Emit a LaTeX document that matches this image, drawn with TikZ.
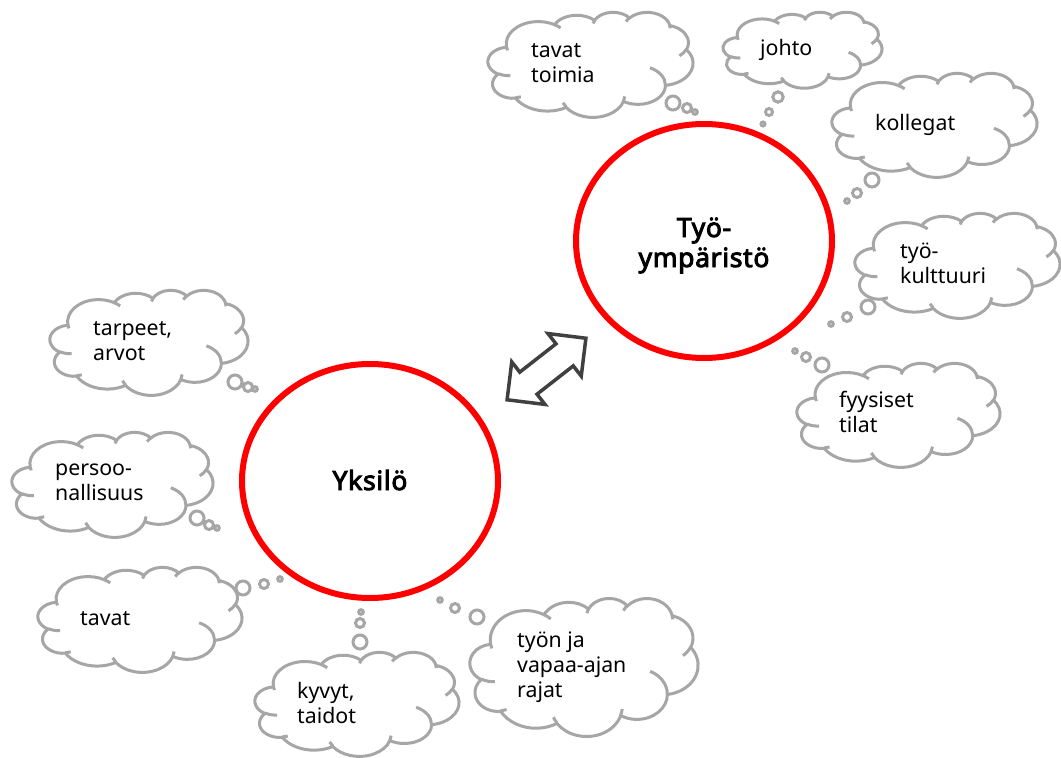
\documentclass[tikz,border=0pt]{standalone}
\usepackage{fontspec}
\setmainfont{Noto Sans}
\newfontfamily\labelfont{Noto Sans}[FakeBold=3.5, LetterSpace=2.5]
\usetikzlibrary{shapes.geometric}
\definecolor{cloudgray}{HTML}{A6A6A6}
\definecolor{arrowgray}{HTML}{404040}
\definecolor{ringred}{HTML}{FF0000}
\tikzset{
  ooarc/.style n args={4}{insert path={arc[x radius=#1, y radius=#2,
      start angle={atan2(#1*sin(#3),#2*cos(#3))},
      delta angle={mod(atan2(#1*sin(#3+#4),#2*cos(#3+#4))-atan2(#1*sin(#3),#2*cos(#3))+720,360)}]}},
}
% PowerPoint-style cloud in a box: x0, y0 (top left), width, height
\newcommand\pptcloud[4]{%
  \begin{scope}[shift={(#1,#2)}, y=1pt, xscale=#3/432, yscale=-#4/432]
    \draw[cloudline] (39,143.70)
      [ooarc={67.53}{91.90}{-190.48748}{123.78053}]
      [ooarc={53.33}{72.67}{-144.10238}{89.94523}]
      [ooarc={43.65}{59.45}{-145.80792}{99.72302}]
      [ooarc={48.57}{65.95}{-130.98607}{117.24173}]
      [ooarc={53.33}{72.73}{-78.70888}{109.02692}]
      [ooarc={67.75}{92.20}{-46.26725}{130.269}]
      [ooarc={57.85}{78.67}{0.62502}{114.03333}]
      [ooarc={67.52}{92.15}{22.4516}{115.17255}]
      [ooarc={77.20}{105.43}{66.24263}{75.71102}]
      [ooarc={43.60}{59.18}{-274.94208}{146.73557}]
      [ooarc={43.45}{59.45}{-246.8285}{152.51885}]
      -- cycle;
    \draw[cloudline]
      (46.93,261.77) [ooarc={43.45}{59.45}{86.742}{26.4295}]
      (69.28,348.99) [ooarc={43.60}{59.18}{73.61047}{11.44747}]
      (164.78,390.90) [ooarc={67.52}{92.15}{137.62415}{14.0811}]
      (288.27,347.51) [ooarc={67.52}{92.15}{6.45327}{15.99835}]
      (341.29,229.54) [ooarc={57.85}{78.67}{-70.29235}{70.91737}]
      (417.98,153.54) [ooarc={53.33}{72.73}{30.31803}{27.7515}]
      (383.24,54.26) [ooarc={48.57}{65.95}{-13.74433}{14.85342}]
      (290.78,39.52) [ooarc={48.57}{65.95}{-149.18145}{18.18912}]
      (221.41,47.20) [ooarc={43.65}{59.45}{-163.49427}{17.697}]
      (140.00,51.92) [ooarc={67.53}{91.90}{-66.70695}{12.31935}]
      (41.27,157.89) [ooarc={67.53}{91.90}{157.65435}{11.85817}];
  \end{scope}}
% three thought bubbles: big, middle, small centres
\newcommand\bubbles[3]{%
  \draw[cloudline] #1 circle[radius=7] #2 circle[radius=4.5] #3 circle[radius=2.3];}
\begin{document}
\begin{tikzpicture}[x=1pt,y=-1pt,
  cloudline/.style={draw=cloudgray, line width=3pt},
  txt/.style={font=\fontsize{21.3}{25}\selectfont, inner sep=0pt, anchor=base west},
  boldtxt/.style={font=\labelfont\fontsize{26.5}{30}\selectfont, inner sep=0pt, anchor=base},
  ring/.style={ellipse, draw=ringred, line width=6pt, minimum width=256pt, minimum height=234pt, inner sep=0pt},
]
\fill[white] (0,0) rectangle (1061,758);
\useasboundingbox (0,0) rectangle (1061,758);

% main circles
\node[ring] (tyo) at (704,241) {};
\node[ring] (yks) at (370,481) {};
\node[boldtxt] (tyotxt) at (704,237) {\begin{tabular}[t]{@{}c@{}}Työ-\\ympäristö\end{tabular}};
\node[boldtxt] (ykstxt) at (370,490) {Yksilö};

% double arrow
\begin{scope}[shift={(546.5,369)}, rotate=38]
  \draw[draw=arrowgray, fill=white, line width=3.5pt, line join=miter]
    (-50,0) -- (-23,27) -- (-23,14) -- (23,14) -- (23,27) -- (50,0)
    -- (23,-27) -- (23,-14) -- (-23,-14) -- (-23,-27) -- cycle;
\end{scope}

% clouds around Työympäristö
\pptcloud{488}{12}{205}{105}
\bubbles{(673,103)}{(687,108)}{(695,112)}
\node[txt] (c1) at (531,57) {\begin{tabular}[t]{@{}l@{}}tavat\\toimia\end{tabular}};

\pptcloud{723}{12}{159}{76}
\draw[cloudline] (778,97) circle[radius=5.2] (769,112) circle[radius=3.5] (763,124) circle[radius=2];
\node[txt] (c2) at (760,55) {johto};

\pptcloud{832}{73}{205}{104}
\bubbles{(872,180)}{(857,193)}{(847,201)}
\node[txt] (c3) at (875,130) {kollegat};

\pptcloud{855}{213}{205}{105}
\bubbles{(868,307)}{(847,317)}{(831,324)}
\node[txt] (c4) at (900,258) {\begin{tabular}[t]{@{}l@{}}työ-\\kulttuuri\end{tabular}};

\pptcloud{797}{363}{203}{104}
\bubbles{(822,365)}{(806,357)}{(795,351)}
\node[txt] (c5) at (839,407) {\begin{tabular}[t]{@{}l@{}}fyysiset\\tilat\end{tabular}};

% clouds around Yksilö
\pptcloud{50}{290}{198}{105}
\bubbles{(235,382)}{(248,387)}{(255,389)}
\node[txt] (c6) at (93,335) {\begin{tabular}[t]{@{}l@{}}tarpeet,\\arvot\end{tabular}};

\pptcloud{12}{432}{201}{105}
\bubbles{(197,518)}{(209,525)}{(217,528)}
\node[txt] (c7) at (55,475) {\begin{tabular}[t]{@{}l@{}}persoo-\\nallisuus\end{tabular}};

\pptcloud{38}{567}{204}{105}
\bubbles{(243,588)}{(264,584)}{(280,579)}
\node[txt] (c8) at (80,625) {tavat};

\pptcloud{255}{652}{204}{104}
\bubbles{(360,642)}{(360,623)}{(361,612)}
\node[txt] (c9) at (297,698) {\begin{tabular}[t]{@{}l@{}}kyvyt,\\taidot\end{tabular}};

\pptcloud{470}{598}{228}{138}
\bubbles{(477,617)}{(455,608)}{(440,600)}
\node[txt] (c10) at (517,647) {\begin{tabular}[t]{@{}l@{}}työn ja\\vapaa-ajan\\rajat\end{tabular}};
\end{tikzpicture}
\end{document}
